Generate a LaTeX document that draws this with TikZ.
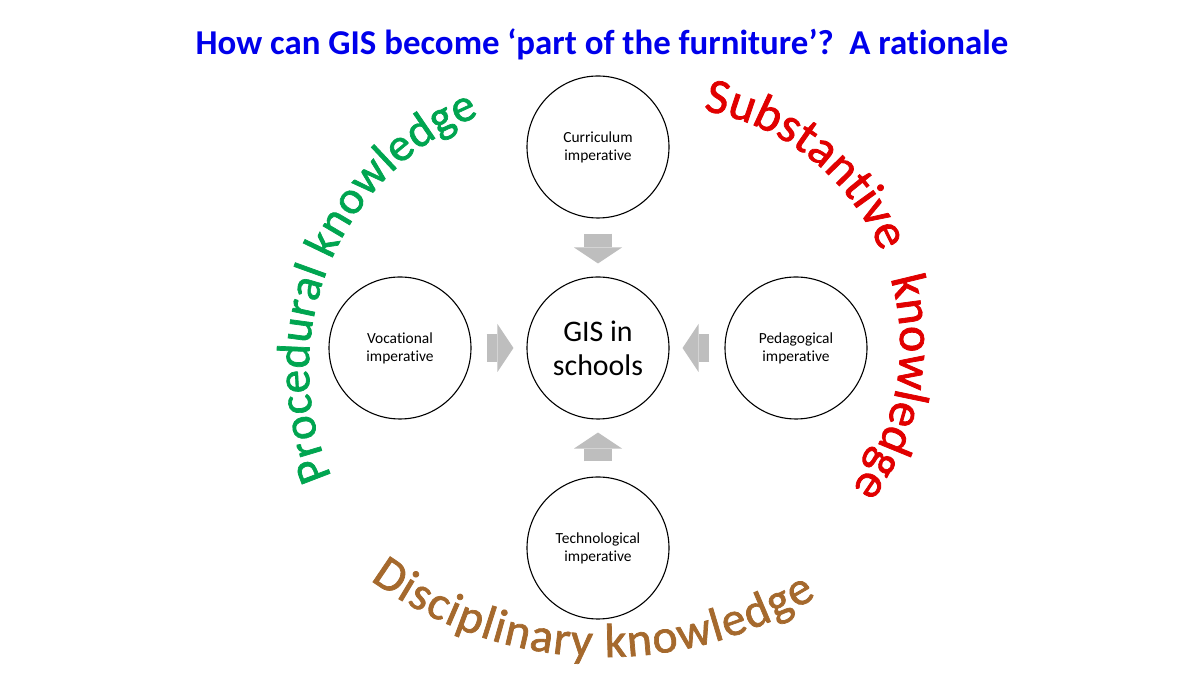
\documentclass[tikz,border=0pt]{standalone}
\usepackage{fontspec}
\setmainfont{Carlito}[Ligatures=NoCommon]
\newfontfamily\artfont{Carlito}[FakeBold=1.5, Ligatures=NoCommon]
\usetikzlibrary{arrows.meta,decorations.text}
\definecolor{titleblue}{RGB}{0,0,235}
\definecolor{procgreen}{RGB}{0,165,80}
\definecolor{substred}{RGB}{225,0,0}
\definecolor{discbrown}{RGB}{165,105,45}
\definecolor{arrowgray}{RGB}{190,190,190}

\begin{document}
\begin{tikzpicture}[x=1bp, y=1bp]
		\path[use as bounding box, fill=white] (0,0) rectangle (1200,675);
		\node[font=\bfseries\fontsize{35}{40}\selectfont, text=titleblue, anchor=base] (title) at (602,620) {How can GIS become ‘part of the furniture’?\ \ A rationale};
		\begin{scope}[every node/.style={circle, draw, line width=1.1bp, minimum size=142bp, inner sep=0pt, align=center, font=\fontsize{15.5}{18}\selectfont}]
			\node[font=\fontsize{30}{34}\selectfont] (gis) at (598,327) {GIS in\\schools};
			\node (cur) at (598,528) {Curriculum\\imperative};
			\node (voc) at (400,327) {Vocational\\imperative};
			\node (ped) at (796,327) {Pedagogical\\imperative};
			\node (tech) at (598,127) {Technological\\imperative};
		\end{scope}
		\begin{scope}[every path/.style={draw=arrowgray, line width=28bp, -{Triangle[length=16bp, width=48bp, line width=0pt]}, shorten <=15bp, shorten >=13bp}]
			\path (cur) edge (gis);
			\path (voc) edge (gis);
			\path (ped) edge (gis);
			\path (tech) edge (gis);
		\end{scope}
		\path[decorate, decoration={text along path, text align=fit to path,
			text={|\artfont\color{procgreen}\fontsize{47}{47}\selectfont|Procedural knowledge}}]
			([shift={(203.5:272)}]581,307) arc[start angle=203.5, end angle=112, radius=272];
		\path[decorate, decoration={text along path, text align=fit to path stretching spaces,
			text={|\artfont\color{substred}\fontsize{50}{50}\selectfont|Substantive knowledge}}]
			([shift={(80:238)}]662,330) arc[start angle=80, end angle=-37, radius=238];
		\path[decorate, decoration={text along path, text align=fit to path,
			text={|\artfont\color{discbrown}\fontsize{48}{48}\selectfont|Disciplinary knowledge}}]
			([shift={(233.8:399)}]606,417) arc[start angle=233.8, end angle=301.8, radius=399];
	\end{tikzpicture}
\end{document}
